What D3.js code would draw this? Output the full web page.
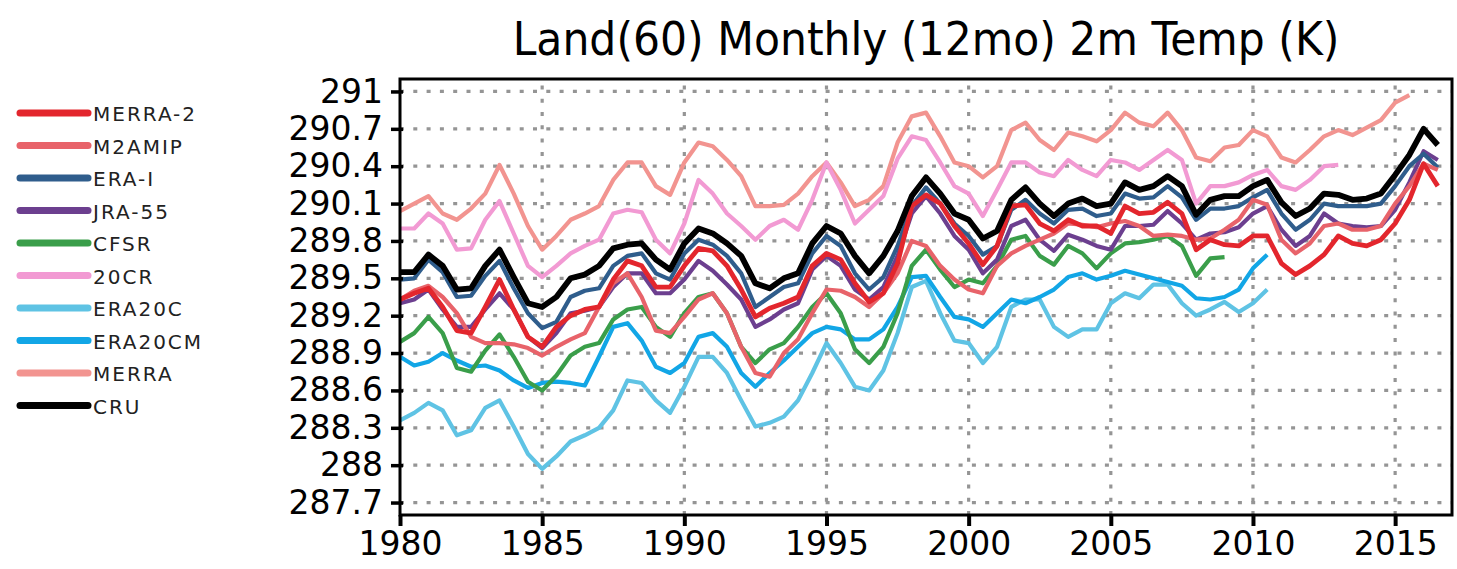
<!DOCTYPE html>
<html>
<head>
<meta charset="utf-8">
<title>Land(60) Monthly (12mo) 2m Temp (K)</title>
<script src="https://d3js.org/d3.v7.min.js"></script>
<style>
body { margin: 0; background: #fff; }
svg { display: block; font-family: "DejaVu Sans", sans-serif; }
.grid line { stroke: #959595; stroke-width: 3.2; stroke-dasharray: 4 9.3; }
</style>
</head>
<body>
<script>
// half-year steps, 12-month running means
const years = [1980, 1980.5, 1981, 1981.5, 1982, 1982.5, 1983, 1983.5, 1984, 1984.5,
  1985, 1985.5, 1986, 1986.5, 1987, 1987.5, 1988, 1988.5, 1989, 1989.5,
  1990, 1990.5, 1991, 1991.5, 1992, 1992.5, 1993, 1993.5, 1994, 1994.5,
  1995, 1995.5, 1996, 1996.5, 1997, 1997.5, 1998, 1998.5, 1999, 1999.5,
  2000, 2000.5, 2001, 2001.5, 2002, 2002.5, 2003, 2003.5, 2004, 2004.5,
  2005, 2005.5, 2006, 2006.5, 2007, 2007.5, 2008, 2008.5, 2009, 2009.5,
  2010, 2010.5, 2011, 2011.5, 2012, 2012.5, 2013, 2013.5, 2014, 2014.5,
  2015, 2015.5, 2016, 2016.5];

const merra2 = [289.33, 289.38, 289.42, 289.27, 289.08, 289.06, 289.27, 289.49, 289.25, 289.03,
  288.95, 289.11, 289.20, 289.25, 289.27, 289.49, 289.64, 289.60, 289.43, 289.43,
  289.60, 289.74, 289.72, 289.60, 289.41, 289.19, 289.26, 289.30, 289.35, 289.60,
  289.70, 289.65, 289.46, 289.31, 289.38, 289.62, 290.08, 290.17, 290.10, 289.92,
  289.78, 289.61, 289.76, 290.08, 290.09, 289.94, 289.88, 289.97, 289.92, 289.92,
  289.86, 290.08, 290.02, 290.03, 290.11, 290.02, 289.73, 289.81, 289.77, 289.76,
  289.84, 289.84, 289.62, 289.53, 289.60, 289.69, 289.84, 289.78, 289.76, 289.81,
  289.94, 290.13, 290.42, 290.24];

const m2amip = [289.33, 289.40, 289.44, 289.35, 289.22, 289.03, 288.98, 288.98, 288.97, 288.94,
  288.88, 288.95, 289.01, 289.06, 289.27, 289.46, 289.54, 289.35, 289.08, 289.06,
  289.19, 289.33, 289.38, 289.22, 288.95, 288.74, 288.71, 288.90, 289.01, 289.22,
  289.41, 289.40, 289.35, 289.27, 289.38, 289.54, 289.80, 289.76, 289.60, 289.49,
  289.41, 289.38, 289.60, 289.70, 289.76, 289.81, 289.86, 289.94, 289.93, 289.91,
  289.94, 289.96, 289.92, 289.84, 289.85, 289.84, 289.81, 289.82, 289.89, 289.97,
  290.13, 290.09, 289.81, 289.70, 289.78, 289.92, 289.94, 289.89, 289.89, 289.92,
  290.10, 290.24, 290.42, 290.37];

const eraI = [289.49, 289.50, 289.65, 289.55, 289.35, 289.36, 289.52, 289.64, 289.42, 289.22,
  289.10, 289.15, 289.35, 289.40, 289.42, 289.60, 289.68, 289.70, 289.54, 289.49,
  289.70, 289.81, 289.77, 289.68, 289.54, 289.27, 289.35, 289.43, 289.46, 289.70,
  289.84, 289.76, 289.54, 289.41, 289.51, 289.76, 290.08, 290.23, 290.10, 289.94,
  289.84, 289.69, 289.76, 290.05, 290.13, 290.02, 289.94, 290.05, 290.06, 290.00,
  290.02, 290.18, 290.14, 290.15, 290.24, 290.15, 289.97, 290.06, 290.06, 290.08,
  290.15, 290.21, 290.02, 289.89, 289.97, 290.10, 290.08, 290.08, 290.08, 290.10,
  290.24, 290.40, 290.50, 290.39];

const jra55 = [289.30, 289.33, 289.41, 289.25, 289.11, 289.11, 289.25, 289.38, 289.25, 289.03,
  288.94, 289.06, 289.22, 289.24, 289.27, 289.43, 289.54, 289.54, 289.38, 289.38,
  289.49, 289.64, 289.56, 289.45, 289.33, 289.11, 289.17, 289.25, 289.30, 289.57,
  289.68, 289.60, 289.41, 289.33, 289.43, 289.68, 290.02, 290.16, 290.02, 289.84,
  289.73, 289.54, 289.65, 289.92, 289.97, 289.81, 289.72, 289.85, 289.81, 289.76,
  289.73, 289.92, 289.92, 289.93, 290.04, 289.94, 289.81, 289.86, 289.87, 289.91,
  290.02, 290.08, 289.89, 289.76, 289.84, 290.02, 289.94, 289.92, 289.91, 289.92,
  290.05, 290.27, 290.52, 290.45];

const cfsr = [288.99, 289.06, 289.19, 289.06, 288.78, 288.75, 288.92, 289.05, 288.87, 288.67,
  288.60, 288.72, 288.88, 288.95, 288.98, 289.17, 289.25, 289.27, 289.11, 289.03,
  289.22, 289.35, 289.38, 289.22, 288.95, 288.82, 288.93, 288.98, 289.11, 289.27,
  289.38, 289.22, 288.93, 288.82, 288.95, 289.22, 289.60, 289.73, 289.57, 289.43,
  289.49, 289.46, 289.60, 289.81, 289.84, 289.68, 289.61, 289.76, 289.70, 289.58,
  289.70, 289.78, 289.79, 289.81, 289.84, 289.76, 289.52, 289.66, 289.67, null,
  null, null, null, null, null, null, null, null, null, null,
  null, null, null, null];

const cr20 = [289.90, 289.90, 290.02, 289.94, 289.73, 289.74, 289.97, 290.12, 289.86, 289.60,
  289.51, 289.60, 289.70, 289.76, 289.81, 290.02, 290.05, 290.03, 289.81, 289.70,
  289.94, 290.29, 290.18, 290.02, 289.92, 289.81, 289.92, 289.97, 289.89, 290.13,
  290.43, 290.21, 289.94, 290.05, 290.16, 290.46, 290.64, 290.61, 290.43, 290.24,
  290.18, 290.00, 290.21, 290.43, 290.43, 290.35, 290.32, 290.45, 290.37, 290.32,
  290.45, 290.43, 290.37, 290.45, 290.53, 290.45, 290.10, 290.24, 290.24, 290.27,
  290.33, 290.37, 290.24, 290.21, 290.29, 290.40, 290.41, null, null, null,
  null, null, null, null];

const era20c = [288.36, 288.42, 288.50, 288.44, 288.24, 288.28, 288.46, 288.52, 288.31, 288.09,
  287.97, 288.07, 288.19, 288.24, 288.30, 288.44, 288.68, 288.66, 288.52, 288.42,
  288.63, 288.87, 288.87, 288.74, 288.52, 288.31, 288.34, 288.39, 288.52, 288.74,
  288.98, 288.82, 288.63, 288.60, 288.76, 289.06, 289.43, 289.48, 289.22, 289.00,
  288.98, 288.82, 288.95, 289.27, 289.33, 289.33, 289.11, 289.03, 289.09, 289.09,
  289.30, 289.38, 289.34, 289.45, 289.45, 289.30, 289.20, 289.25, 289.31, 289.23,
  289.30, 289.41, null, null, null, null, null, null, null, null,
  null, null, null, null];

const era20cm = [288.87, 288.80, 288.83, 288.90, 288.84, 288.79, 288.80, 288.76, 288.68, 288.62,
  288.66, 288.67, 288.66, 288.64, 288.87, 289.11, 289.14, 289.00, 288.79, 288.74,
  288.82, 289.03, 289.06, 288.95, 288.74, 288.63, 288.74, 288.84, 288.95, 289.06,
  289.11, 289.09, 289.01, 289.01, 289.09, 289.27, 289.51, 289.52, 289.35, 289.19,
  289.17, 289.11, 289.22, 289.33, 289.30, 289.35, 289.41, 289.51, 289.54, 289.49,
  289.52, 289.56, 289.53, 289.50, 289.47, 289.44, 289.34, 289.33, 289.35, 289.41,
  289.58, 289.69, null, null, null, null, null, null, null, null,
  null, null, null, null];

const merra = [290.04, 290.10, 290.16, 290.02, 289.97, 290.06, 290.18, 290.41, 290.18, 289.92,
  289.73, 289.84, 289.97, 290.02, 290.08, 290.29, 290.43, 290.43, 290.24, 290.17,
  290.43, 290.59, 290.56, 290.45, 290.32, 290.08, 290.08, 290.09, 290.18, 290.32,
  290.43, 290.27, 290.08, 290.13, 290.24, 290.59, 290.80, 290.83, 290.64, 290.43,
  290.40, 290.31, 290.40, 290.69, 290.75, 290.61, 290.53, 290.67, 290.64, 290.60,
  290.69, 290.83, 290.75, 290.72, 290.83, 290.69, 290.47, 290.44, 290.55, 290.57,
  290.69, 290.64, 290.47, 290.43, 290.53, 290.64, 290.69, 290.65, 290.71, 290.77,
  290.91, 290.97, null, null];

const cru = [289.55, 289.55, 289.69, 289.60, 289.41, 289.42, 289.60, 289.73, 289.51, 289.30,
  289.27, 289.35, 289.50, 289.53, 289.60, 289.74, 289.77, 289.78, 289.65, 289.57,
  289.78, 289.90, 289.86, 289.78, 289.68, 289.46, 289.42, 289.50, 289.54, 289.78,
  289.92, 289.86, 289.68, 289.54, 289.68, 289.88, 290.16, 290.31, 290.18, 290.02,
  289.97, 289.82, 289.88, 290.13, 290.23, 290.10, 290.00, 290.10, 290.14, 290.08,
  290.10, 290.27, 290.21, 290.24, 290.32, 290.24, 290.01, 290.13, 290.16, 290.16,
  290.24, 290.29, 290.11, 290.00, 290.06, 290.18, 290.17, 290.13, 290.14, 290.18,
  290.33, 290.49, 290.70, 290.57];

const names = ['MERRA-2', 'M2AMIP', 'ERA-I', 'JRA-55', 'CFSR', '20CR', 'ERA20C', 'ERA20CM', 'MERRA', 'CRU'];
const values = [merra2, m2amip, eraI, jra55, cfsr, cr20, era20c, era20cm, merra, cru];
const colors = ['#e3262d', '#e8636a', '#2f5d8c', '#6c3f8f', '#3a9e4a', '#f29ad3', '#5fc3e4', '#12a6e6', '#f29490', '#000000'];
const yTicks = [291, 290.7, 290.4, 290.1, 289.8, 289.5, 289.2, 288.9, 288.6, 288.3, 288, 287.7];
const xTicks = [1980, 1985, 1990, 1995, 2000, 2005, 2010, 2015];

let width = 1457, height = 569;
let plot = {left: 400, right: 1452, top: 79, bottom: 515};

let svg = d3.select('body').append('svg').attr('width', width).attr('height', height);

let x = d3.scaleLinear().domain([1980, 2017]).range([plot.left, plot.right]);
let y = d3.scaleLinear().domain([287.6, 291.1]).range([plot.bottom, plot.top]);

// dotted grid
let grid = svg.append('g').attr('class', 'grid');
grid.selectAll('.h').data(yTicks).enter().append('line')
  .attr('x1', plot.left).attr('x2', plot.right)
  .attr('y1', d => y(d)).attr('y2', d => y(d));
grid.selectAll('.v').data(xTicks.slice(1)).enter().append('line')
  .attr('x1', d => x(d)).attr('x2', d => x(d))
  .attr('y1', plot.bottom).attr('y2', plot.top);

// series, drawn so that CRU ends up on top
let line = d3.line()
  .defined(d => d[1] != null)
  .x(d => x(d[0])).y(d => y(d[1]));

let order = [8, 5, 6, 7, 4, 3, 2, 1, 0, 9];
order.forEach(i => {
  svg.append('path')
    .datum(years.map((yr, j) => [yr, values[i][j]]))
    .attr('d', line)
    .attr('fill', 'none')
    .attr('stroke', colors[i])
    .attr('stroke-width', i == 9 ? 5.8 : (i == 0 ? 4.8 : 4.2))
    .attr('stroke-linejoin', 'round');
});

// frame
svg.append('rect')
  .attr('x', plot.left).attr('y', plot.top)
  .attr('width', plot.right - plot.left).attr('height', plot.bottom - plot.top)
  .attr('fill', 'none').attr('stroke', '#000').attr('stroke-width', 3);

// axes
let yAxis = d3.axisLeft(y).tickValues(yTicks).tickSize(9).tickPadding(8)
  .tickFormat(d => d3.format('')(+d.toFixed(1)));
let gy = svg.append('g').attr('transform', 'translate(' + plot.left + ',0)').call(yAxis);
gy.select('.domain').remove();
gy.selectAll('.tick line').attr('stroke', '#000').attr('stroke-width', 3.5).attr('x2', -9).attr('x1', 3);
gy.selectAll('.tick text').attr('font-size', 33).attr('fill', '#000').attr('font-family', '"DejaVu Sans", sans-serif');

let xAxis = d3.axisBottom(x).tickValues(xTicks).tickSize(11).tickPadding(6).tickFormat(d3.format('d'));
let gx = svg.append('g').attr('transform', 'translate(0,' + plot.bottom + ')').call(xAxis);
gx.select('.domain').remove();
gx.selectAll('.tick line').attr('stroke', '#000').attr('stroke-width', 4);
gx.selectAll('.tick text').attr('font-size', 33).attr('fill', '#000').attr('font-family', '"DejaVu Sans", sans-serif');

// title: a slightly condensed face, as in the original
svg.append('text')
  .attr('transform', 'translate(926,55) scale(0.925,1)')
  .attr('text-anchor', 'middle')
  .attr('font-size', 46).attr('fill', '#000')
  .text('Land(60) Monthly (12mo) 2m Temp (K)');

// legend
let legend = svg.append('g');
names.forEach((n, i) => {
  let ly = 113 + i * 32.5;
  legend.append('line').attr('x1', 20).attr('x2', 88).attr('y1', ly).attr('y2', ly)
    .attr('stroke', colors[i]).attr('stroke-width', 7).attr('stroke-linecap', 'round');
  legend.append('text').attr('x', 93).attr('y', ly + 8).attr('font-size', 20)
    .attr('letter-spacing', 2).attr('fill', '#222').text(n);
});
</script>
</body>
</html>
